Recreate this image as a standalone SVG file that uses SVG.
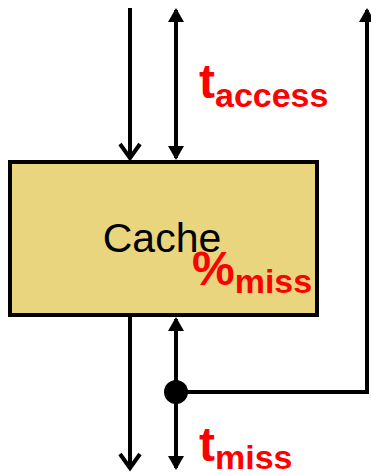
<svg xmlns="http://www.w3.org/2000/svg" width="371" height="475" viewBox="0 0 371 475">
<style>
.ln{stroke:#000;stroke-width:4;fill:none}
.red{fill:#ff0000;font-family:"Liberation Sans",Arial,sans-serif;font-weight:bold}
.lbl{font-family:"Liberation Sans",Arial,sans-serif;font-size:41px;fill:#000}
</style>
<defs>
<marker id="tri" viewBox="0 0 14 16" refX="12" refY="8" markerWidth="14" markerHeight="16" markerUnits="userSpaceOnUse" orient="auto-start-reverse">
<path d="M0,0 L14,8 L0,16 Z" fill="#000"/>
</marker>
<marker id="chev" viewBox="-2 -2 19 26" refX="14" refY="10" markerWidth="19" markerHeight="26" markerUnits="userSpaceOnUse" orient="auto" overflow="visible">
<path d="M0,0 L14,10 L0,20" fill="none" stroke="#000" stroke-width="4"/>
</marker>
</defs>
<g id="cache">
<rect x="10" y="162" width="307" height="153" fill="#e9d57e" stroke="#000" stroke-width="4"/>
<text class="lbl" x="162" y="252" text-anchor="middle">Cache</text>
<text class="red" x="192" y="285" font-size="48">%<tspan font-size="34" dy="8">miss</tspan></text>
</g>
<g id="connectors">
<path class="ln" d="M130,8 L130,158" marker-end="url(#chev)"/>
<path class="ln" d="M176,10 L176,158" marker-start="url(#tri)" marker-end="url(#tri)"/>
<path class="ln" d="M367,10 L367,392 L176,392" marker-start="url(#tri)"/>
<path class="ln" d="M130,317 L130,468" marker-end="url(#chev)"/>
<path class="ln" d="M176,319 L176,468" marker-start="url(#tri)" marker-end="url(#tri)"/>
<circle cx="176" cy="392" r="12" fill="#000"/>
</g>
<g id="labels">
<text class="red" x="199" y="98" font-size="48">t<tspan font-size="34" dy="9">access</tspan></text>
<text class="red" x="199" y="461" font-size="48">t<tspan font-size="34" dy="8">miss</tspan></text>
</g>
</svg>
